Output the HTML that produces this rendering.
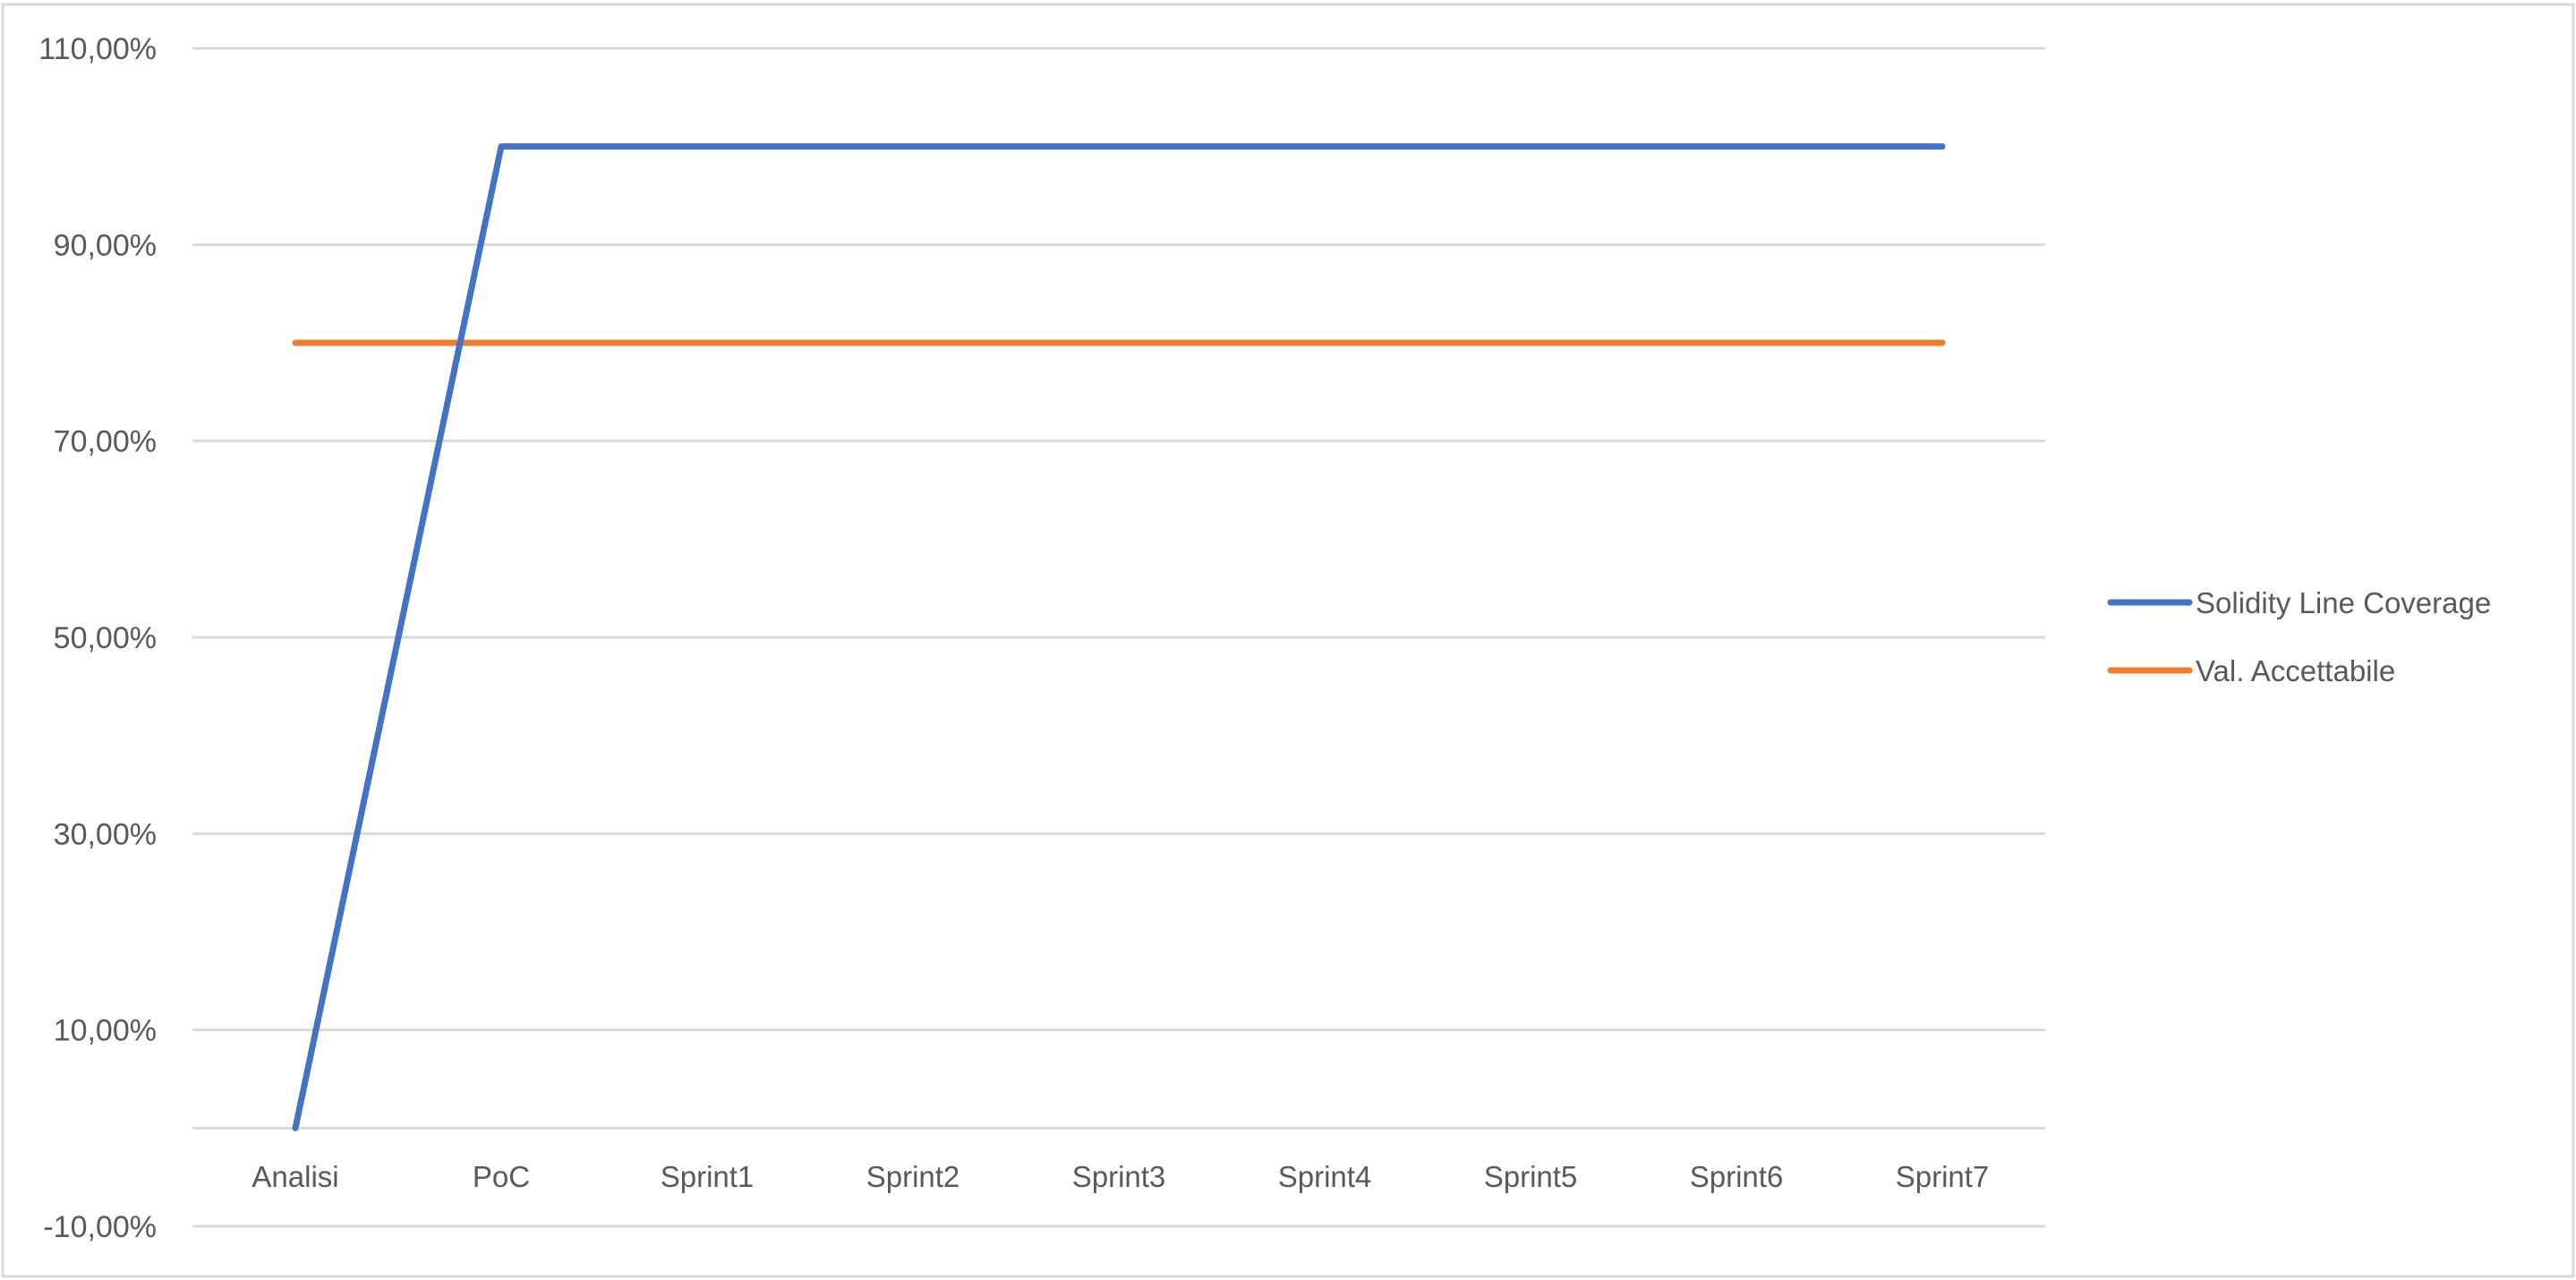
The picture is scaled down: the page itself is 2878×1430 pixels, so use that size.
<!DOCTYPE html>
<html><head><meta charset="utf-8"><style>
html,body{margin:0;padding:0;background:#fff;}
svg{display:block;font-family:"Liberation Sans",sans-serif;}
</style></head><body>
<svg id="chart" width="2878" height="1430" viewBox="0 0 2878 1430" xmlns="http://www.w3.org/2000/svg">
<rect x="3" y="5" width="2872" height="1421" fill="#fff" stroke="#d9d9d9" stroke-width="3"/>
<g id="grid"></g><g id="ylabels"></g><g id="xlabels"></g><g id="series"></g>
<g>
<g>
<line x1="2358" y1="673" x2="2446" y2="673" stroke="#4472c4" stroke-width="7" stroke-linecap="round"/>
<text x="2453" y="685" font-size="33" fill="#595959">Solidity Line Coverage</text></g>
<g>
<line x1="2358" y1="749" x2="2446" y2="749" stroke="#ed7d31" stroke-width="7" stroke-linecap="round"/>
<text x="2453" y="761" font-size="33" fill="#595959">Val. Accettabile</text></g>
</g>
</svg>
<script>
const categories=["Analisi","PoC","Sprint1","Sprint2","Sprint3","Sprint4","Sprint5","Sprint6","Sprint7"];
const coverage=[0,100,100,100,100,100,100,100,100];
const accettabile=[80,80,80,80,80,80,80,80,80];
const yTicks=[-10,10,30,50,70,90,110];
const yTickLabels=["-10,00%","10,00%","30,00%","50,00%","70,00%","90,00%","110,00%"];
const NS="http://www.w3.org/2000/svg";
const L=215,R=2285,T=54,B=1370,yMin=-10,yMax=110;
function y(v){return B-(v-yMin)/(yMax-yMin)*(B-T);}
function x(i){const w=(R-L)/categories.length;return L+w*(i+0.5);}
function mk(t,a,p){const e=document.createElementNS(NS,t);for(const k in a)e.setAttribute(k,a[k]);p.appendChild(e);return e;}
const grid=document.getElementById('grid'),yl=document.getElementById('ylabels'),xl=document.getElementById('xlabels'),se=document.getElementById('series');
yTicks.forEach((v,i)=>{
 const g=mk('line',{x1:L,x2:R,y1:y(v),y2:y(v),stroke:'#d9d9d9','stroke-width':3},grid);
 
 
 const t=mk('text',{x:175,y:y(v)+12,'text-anchor':'end','font-size':34,fill:'#595959'},yl);
 t.textContent=yTickLabels[i];
 
 
});
const ax=mk('line',{x1:L,x2:R,y1:y(0),y2:y(0),stroke:'#d9d9d9','stroke-width':3},grid);


categories.forEach((c,i)=>{
 const t=mk('text',{x:x(i),y:1326,'text-anchor':'middle','font-size':33,fill:'#595959'},xl);
 t.textContent=c;
 
 
});
function line(vals,color,name){
 const p=mk('polyline',{points:vals.map((v,i)=>x(i)+','+y(v)).join(' '),fill:'none',stroke:color,'stroke-width':7,'stroke-linecap':'round','stroke-linejoin':'round'},se);
 
 
}
line(accettabile,'#ed7d31');
line(coverage,'#4472c4','coverage-line');

</script>
</body></html>
